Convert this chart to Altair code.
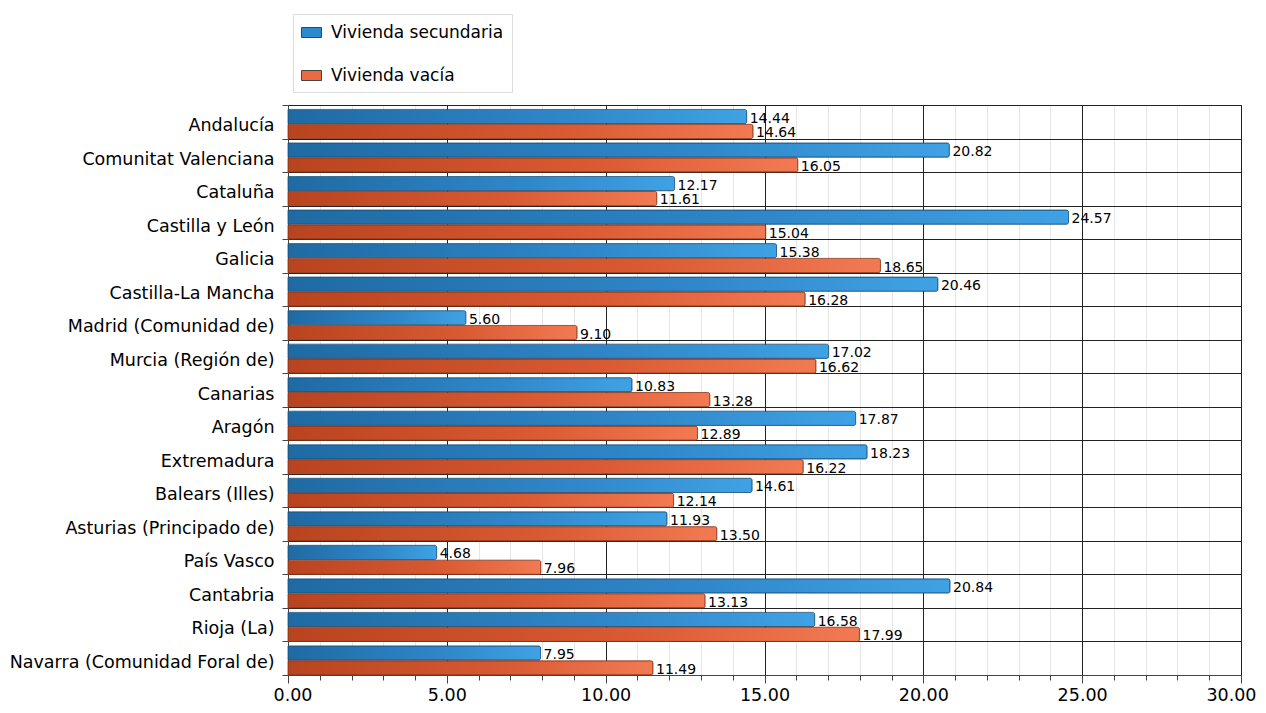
import altair as alt
import pandas as pd

regions = ["Andalucía", "Comunitat Valenciana", "Cataluña", "Castilla y León", "Galicia",
           "Castilla-La Mancha", "Madrid (Comunidad de)", "Murcia (Región de)", "Canarias",
           "Aragón", "Extremadura", "Balears (Illes)", "Asturias (Principado de)", "País Vasco",
           "Cantabria", "Rioja (La)", "Navarra (Comunidad Foral de)"]
secundaria = [14.44, 20.82, 12.17, 24.57, 15.38, 20.46, 5.60, 17.02, 10.83, 17.87, 18.23,
              14.61, 11.93, 4.68, 20.84, 16.58, 7.95]
vacia = [14.64, 16.05, 11.61, 15.04, 18.65, 16.28, 9.10, 16.62, 13.28, 12.89, 16.22,
         12.14, 13.50, 7.96, 13.13, 17.99, 11.49]
series_names = ["Vivienda secundaria", "Vivienda vacía"]
x_ticks = list(range(0, 31))

rows = []
for r, s, v in zip(regions, secundaria, vacia):
    rows.append({"region": r, "serie": series_names[0], "valor": s})
    rows.append({"region": r, "serie": series_names[1], "valor": v})
df = pd.DataFrame(rows)

FONT = "DejaVu Sans"
y_enc = alt.Y("region:N", sort=regions, title=None,
              scale=alt.Scale(domain=regions, paddingInner=0, paddingOuter=0),
              axis=alt.Axis(labelFontSize=17.5, labelColor="#000", labelFont=FONT,
                            tickBand="extent", grid=True, gridColor="#222", gridWidth=1,
                            domainColor="#444", tickColor="#444", tickSize=6,
                            labelPadding=8, labelOffset=4, labelLimit=400))
yoff_enc = alt.YOffset("serie:N", scale=alt.Scale(domain=series_names, paddingInner=0.04,
                                                   paddingOuter=0.15, align=1))
x_enc = alt.X("valor:Q", title=None,
              scale=alt.Scale(domain=[0, 30], nice=False),
              axis=alt.Axis(values=x_ticks, labelFontSize=17.5, labelColor="#000", labelFont=FONT,
                            labelExpr="datum.value % 5 === 0 ? format(datum.value, '.2f') : ''",
                            grid=True,
                            gridColor={"condition": {"test": "datum.value % 5 === 0", "value": "#222"},
                                       "value": "#e6e6e6"},
                            tickSize={"condition": {"test": "datum.value % 5 === 0", "value": 8},
                                      "value": 5},
                            tickColor="#444", domainColor="#444", labelPadding=3,
                            labelOverlap=False, labelFlush=True, labelFlushOffset=15))

blue_grad = alt.Gradient(gradient="linear", x1=0, y1=0, x2=1, y2=0,
                         stops=[alt.GradientStop(color="#1f6aa3", offset=0),
                                alt.GradientStop(color="#2f86c8", offset=0.6),
                                alt.GradientStop(color="#3fa2e4", offset=1)])
orange_grad = alt.Gradient(gradient="linear", x1=0, y1=0, x2=1, y2=0,
                           stops=[alt.GradientStop(color="#b8441f", offset=0),
                                  alt.GradientStop(color="#d95a33", offset=0.6),
                                  alt.GradientStop(color="#f27a52", offset=1)])

base = alt.Chart(df)

legend_layer = base.mark_bar(opacity=0).encode(
    y=y_enc, yOffset=yoff_enc, x=x_enc,
    color=alt.Color("serie:N", title=None,
                    scale=alt.Scale(domain=series_names, range=["#2a8ad0", "#ec6a42"]),
                    legend=alt.Legend(orient="none", legendX=5, legendY=-91,
                                      labelFontSize=17, labelFont=FONT, labelColor="#000",
                                      labelLimit=400,
                                      symbolType="M-1,-0.5H1V0.5H-1Z", symbolSize=400,
                                      symbolOpacity=1, symbolStrokeWidth=1,
                                      symbolStrokeColor="#444",
                                      rowPadding=24, padding=8,
                                      strokeColor="#dddddd", fillColor="#ffffff",
                                      labelOffset=9))
)

blue_layer = base.transform_filter(alt.datum.serie == series_names[0]).mark_bar(
    color=blue_grad, stroke="#1b5480", strokeWidth=0.8, cornerRadiusEnd=2
).encode(y=y_enc, yOffset=yoff_enc, x=x_enc)

orange_layer = base.transform_filter(alt.datum.serie == series_names[1]).mark_bar(
    color=orange_grad, stroke="#8e3516", strokeWidth=0.8, cornerRadiusEnd=2
).encode(y=y_enc, yOffset=yoff_enc, x=x_enc)

labels = base.mark_text(align="left", baseline="middle", dx=3, dy=2, fontSize=14,
                        font=FONT, color="#000").encode(
    y=y_enc, yOffset=yoff_enc, x=x_enc,
    text=alt.Text("valor:Q", format=".2f"))

chart = alt.layer(legend_layer, blue_layer, orange_layer, labels).properties(
    width=953, height=570,
    autosize=alt.AutoSizeParams(type="none"),
    padding={"left": 280, "top": 97, "right": 17, "bottom": 28},
    background="#ffffff",
).configure_view(stroke="#333", strokeWidth=1)

chart.save("out.html", embed_options={"renderer": "svg", "actions": False})
